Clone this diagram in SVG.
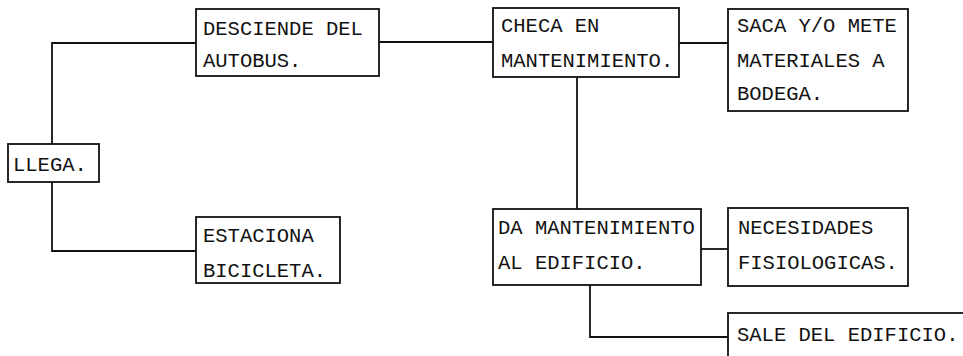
<svg xmlns="http://www.w3.org/2000/svg" width="963" height="356" viewBox="0 0 963 356">
<style>
.box{fill:#fff;stroke:#111;stroke-width:1.8}
.lbl{font-family:"Liberation Mono","DejaVu Sans Mono",monospace;font-size:20.5px;fill:#111}
.conn{fill:none;stroke:#111;stroke-width:1.8}
</style>
<rect width="963" height="356" fill="#fff"/>
<g id="connectors">
<polyline class="conn" points="52,144 52,43 196,43"/>
<polyline class="conn" points="52,182 52,251 196,251"/>
<line class="conn" x1="379" y1="42" x2="493" y2="42"/>
<line class="conn" x1="679" y1="43" x2="728" y2="43"/>
<line class="conn" x1="577" y1="77" x2="577" y2="209"/>
<line class="conn" x1="701" y1="249" x2="728" y2="249"/>
<polyline class="conn" points="590,285 590,337 728,337"/>
</g>
<g id="llega">
<rect class="box" x="8" y="144" width="91" height="38"/>
<text class="lbl" x="13" y="171">LLEGA.</text>
</g>
<g id="desciende">
<rect class="box" x="196" y="9" width="183" height="67"/>
<text class="lbl" x="203" y="35">DESCIENDE DEL</text>
<text class="lbl" x="203" y="67">AUTOBUS.</text>
</g>
<g id="estaciona">
<rect class="box" x="196" y="217" width="144" height="66"/>
<text class="lbl" x="203" y="242">ESTACIONA</text>
<text class="lbl" x="203" y="277">BICICLETA.</text>
</g>
<g id="checa">
<rect class="box" x="493" y="8" width="186" height="69"/>
<text class="lbl" x="501" y="32">CHECA EN</text>
<text class="lbl" x="501" y="67">MANTENIMIENTO.</text>
</g>
<g id="saca">
<rect class="box" x="728" y="9" width="180" height="102"/>
<text class="lbl" x="737" y="32">SACA Y/O METE</text>
<text class="lbl" x="737" y="67">MATERIALES A</text>
<text class="lbl" x="737" y="100">BODEGA.</text>
</g>
<g id="da">
<rect class="box" x="493" y="209" width="208" height="76"/>
<text class="lbl" x="498" y="234">DA MANTENIMIENTO</text>
<text class="lbl" x="498" y="269">AL EDIFICIO.</text>
</g>
<g id="necesidades">
<rect class="box" x="728" y="208" width="180" height="78"/>
<text class="lbl" x="738" y="234">NECESIDADES</text>
<text class="lbl" x="738" y="269">FISIOLOGICAS.</text>
</g>
<g id="sale">
<rect class="box" x="728" y="313" width="250" height="60"/>
<text class="lbl" x="737" y="341">SALE DEL EDIFICIO.</text>
</g>
</svg>
